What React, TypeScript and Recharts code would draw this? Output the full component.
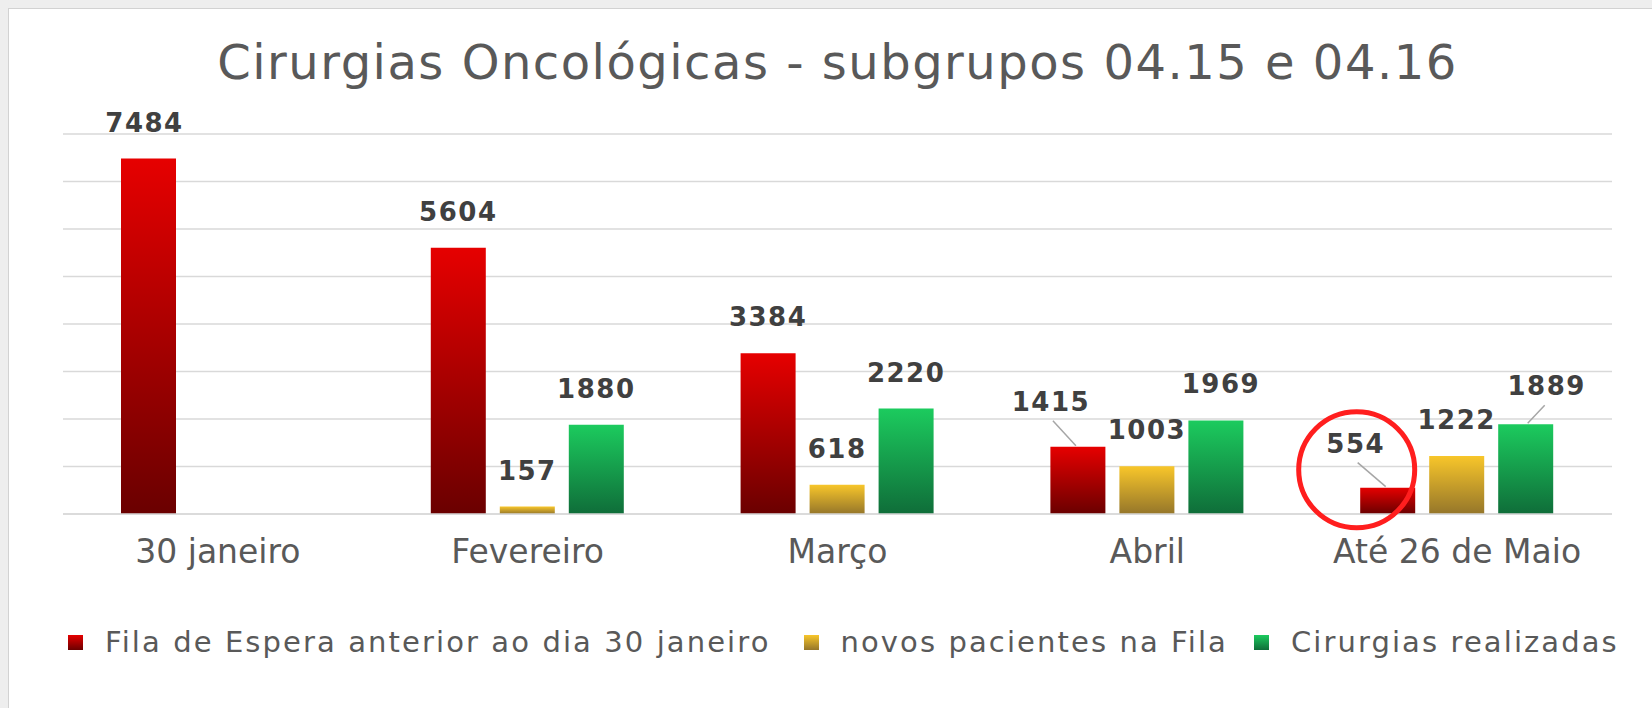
import React from 'react'
import { BarChart, Bar, XAxis, YAxis, CartesianGrid, LabelList } from 'recharts'

const CATEGORIES = ['30 janeiro', 'Fevereiro', 'Março', 'Abril', 'Até 26 de Maio']
const FILA_ANTERIOR = [7484, 5604, 3384, 1415, 554]
const NOVOS_PACIENTES = [null, 157, 618, 1003, 1222]
const CIRURGIAS = [null, 1880, 2220, 1969, 1889]
const Y_TICKS = [0, 1000, 2000, 3000, 4000, 5000, 6000, 7000, 8000]

const SERIES = [
  { key: 'fila', name: 'Fila de Espera anterior ao dia 30 janeiro', grad: 'gradRed', top: '#e60000', bottom: '#6a0000' },
  { key: 'novos', name: 'novos pacientes na Fila', grad: 'gradYellow', top: '#f8c62a', bottom: '#95762a' },
  { key: 'cirurgias', name: 'Cirurgias realizadas', grad: 'gradGreen', top: '#1ccb5e', bottom: '#0f6d39' },
]

// labels that were dragged away from their bar in the original (dx, dy)
const LABEL_SHIFT: Record<string, number[][]> = {
  fila: [[-4, 0], [0, 0], [0, 0], [-27, -9], [-32, -8]],
  novos: [[0, 0], [0, 0], [0, 0], [0, 0], [0, 0]],
  cirurgias: [[0, 0], [0, 0], [5, 0], [21, -2], [46, -13]],
}
const CIRCLED = { key: 'fila', index: 4 }

const data = CATEGORIES.map((name, i) => ({
  name,
  fila: FILA_ANTERIOR[i],
  novos: NOVOS_PACIENTES[i],
  cirurgias: CIRURGIAS[i],
}))

const FONT = '"DejaVu Sans", sans-serif'

function makeLabel(key: string) {
  return (props: any) => {
    const vb = props.viewBox || {}
    const x = props.x ?? vb.x
    const y = props.y ?? vb.y
    const width = props.width ?? vb.width
    const { value, index } = props
    if (value == null || x == null) return null
    const [dx, dy] = LABEL_SHIFT[key][index] || [0, 0]
    const bx = x + width / 2
    const lx = bx + dx
    const ly = y - 27 + dy
    const moved = Math.abs(dx) > 10
    return (
      <g>
        {moved && (
          <line
            x1={lx + (dx < 0 ? 2 : -2)}
            y1={ly + 10}
            x2={bx + (dx < 0 ? -2 : 2)}
            y2={y - 1}
            stroke="#a6a6a6"
            strokeWidth={1.5}
          />
        )}
        <text
          x={lx}
          y={ly}
          textAnchor="middle"
          fontFamily={FONT}
          fontWeight="bold"
          fontSize={26}
          letterSpacing={1.5}
          fill="#404040"
        >
          {value}
        </text>
        {CIRCLED.key === key && CIRCLED.index === index && (
          <circle cx={bx - 31} cy={y - 18} r={58} fill="none" stroke="#ff1e1e" strokeWidth={5} />
        )}
      </g>
    )
  }
}

export default function App() {
  return (
    <div style={{ position: 'fixed', inset: 0, background: '#eeeeee' }}>
      <div
        style={{
          position: 'absolute',
          left: 8,
          top: 8,
          right: -10,
          bottom: -10,
          background: '#ffffff',
          border: '1px solid #d2d2d2',
        }}
      />
      <div
        style={{
          position: 'absolute',
          left: 63,
          width: 1549,
          top: 38,
          textAlign: 'center',
          fontFamily: FONT,
          fontSize: 48,
          lineHeight: '48px',
          letterSpacing: 1.5,
          color: '#595959',
          whiteSpace: 'nowrap',
        }}
      >
        Cirurgias Oncológicas - subgrupos 04.15 e 04.16
      </div>
      <div style={{ position: 'absolute', left: 0, top: 0 }}>
        <BarChart
          width={1652}
          height={708}
          data={data}
          margin={{ top: 134, right: 40, bottom: 134, left: 63 }}
          barSize={55}
          barGap={14}
        >
          <defs>
            {SERIES.map((s) => (
              <linearGradient key={s.grad} id={s.grad} x1="0" y1="0" x2="0" y2="1">
                <stop offset="0%" stopColor={s.top} />
                <stop offset="100%" stopColor={s.bottom} />
              </linearGradient>
            ))}
          </defs>
          <CartesianGrid vertical={false} stroke="#d9d9d9" strokeWidth={1.5} />
          <XAxis
            dataKey="name"
            interval={0}
            height={60}
            tickLine={false}
            tickMargin={20}
            axisLine={{ stroke: '#d9d9d9', strokeWidth: 1.5 }}
            tick={{ fontSize: 33, fill: '#595959', fontFamily: FONT }}
          />
          <YAxis hide width={0} domain={[0, 8000]} ticks={Y_TICKS} />
          {SERIES.map((s) => (
            <Bar key={s.key} dataKey={s.key} name={s.name} fill={`url(#${s.grad})`} isAnimationActive={false}>
              <LabelList dataKey={s.key} content={makeLabel(s.key)} />
            </Bar>
          ))}
        </BarChart>
      </div>
      <div
        style={{
          position: 'absolute',
          left: 68,
          top: 628,
          display: 'flex',
          alignItems: 'center',
          fontFamily: FONT,
          fontSize: 29,
          lineHeight: '29px',
          letterSpacing: 2.1,
          color: '#595959',
          whiteSpace: 'nowrap',
        }}
      >
        {SERIES.map((s, i) => (
          <div key={s.key} style={{ display: 'flex', alignItems: 'center', marginRight: i === 0 ? 33 : 26 }}>
            <span
              style={{
                display: 'inline-block',
                width: 15,
                height: 15,
                marginRight: 22,
                background: `linear-gradient(${s.top}, ${s.bottom})`,
              }}
            />
            <span>{s.name}</span>
          </div>
        ))}
      </div>
    </div>
  )
}
